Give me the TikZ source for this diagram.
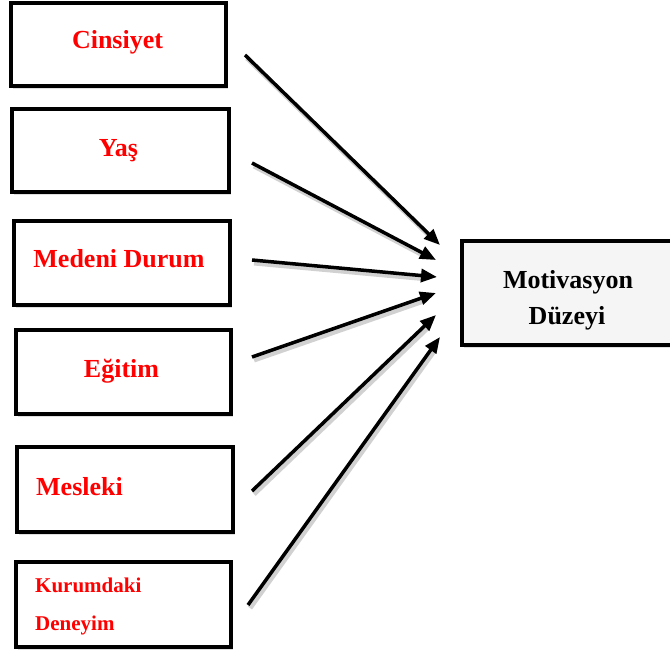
\documentclass[tikz,border=0pt]{standalone}
\usepackage{fontspec}
\setmainfont{Liberation Serif}
\usetikzlibrary{arrows.meta,shadows}

\begin{document}
\begin{tikzpicture}[x=1pt,y=-1pt]
	\tikzset{kutu/.style={draw,line width=3.6pt,fill=white,inner sep=0pt,minimum width=215pt,minimum height=84pt,
			drop shadow={shadow xshift=2pt,shadow yshift=-3pt,opacity=0.25}}}
	\tikzset{etiket/.style={text=red,font=\fontsize{26}{30}\selectfont\bfseries,inner sep=0pt,anchor=base}}
	\tikzset{golge/.style={draw=black!18,line width=5pt,shorten >=14pt,transform canvas={shift={(2pt,-3pt)}}}}
	\tikzset{ok/.style={-{Triangle[length=16pt,width=13pt]},line width=3.5pt}}
	\useasboundingbox (0,0) rectangle (670,650);
	% left column
	\node[kutu,minimum width=215pt,minimum height=83pt] (cinsiyet) at (118.5,44.5) {};
	\node[etiket] (cinsiyetYazi) at (117.5,49) {Cinsiyet};
	\node[kutu,minimum width=217pt,minimum height=83pt] (yas) at (120.5,150.5) {};
	\node[etiket] (yasYazi) at (118.5,157) {Yaş};
	\node[kutu,minimum width=216pt] (medeni) at (122,263) {};
	\node[etiket] (medeniYazi) at (119,267) {Medeni Durum};
	\node[kutu] (egitim) at (123.5,372) {};
	\node[etiket] (egitimYazi) at (121.5,377) {Eğitim};
	\node[kutu,minimum width=216pt,minimum height=85pt] (mesleki) at (125,489.5) {};
	\node[etiket,anchor=base west] (meslekiYazi) at (36,495) {Mesleki};
	\node[kutu,minimum height=85pt] (kurum) at (123.5,604.5) {};
	\node[etiket,anchor=base west,font=\fontsize{21}{25}\selectfont\bfseries] (kurumYazi1) at (35,592) {Kurumdaki};
	\node[etiket,anchor=base west,font=\fontsize{21}{25}\selectfont\bfseries] (kurumYazi2) at (35,630) {Deneyim};
	% right box
	\node[kutu,fill=black!4,minimum width=220pt,minimum height=104pt] (motivasyon) at (572,293) {};
	\node[etiket,text=black] (motivasyonYazi1) at (568,288) {Motivasyon};
	\node[etiket,text=black] (motivasyonYazi2) at (567,324) {Düzeyi};
	% arrow ends
	\coordinate (u1) at (245,55);
	\coordinate (u2) at (252,163);
	\coordinate (u3) at (252,260);
	\coordinate (u4) at (252,357);
	\coordinate (u5) at (252,491);
	\coordinate (u6) at (248,605);
	\coordinate (h1) at (440,245);
	\coordinate (h2) at (436,260);
	\coordinate (h3) at (437,277);
	\coordinate (h4) at (436,293);
	\coordinate (h5) at (436,315);
	\coordinate (h6) at (440,337);
	% shadows of the arrows
	\draw[golge] (u1) -- (h1);
	\draw[golge] (u2) -- (h2);
	\draw[golge] (u3) -- (h3);
	\draw[golge] (u4) -- (h4);
	\draw[golge] (u5) -- (h5);
	\draw[golge] (u6) -- (h6);
	\draw[ok] (u1) -- (h1);
	\draw[ok] (u2) -- (h2);
	\draw[ok] (u3) -- (h3);
	\draw[ok] (u4) -- (h4);
	\draw[ok] (u5) -- (h5);
	\draw[ok] (u6) -- (h6);
\end{tikzpicture}
\end{document}
